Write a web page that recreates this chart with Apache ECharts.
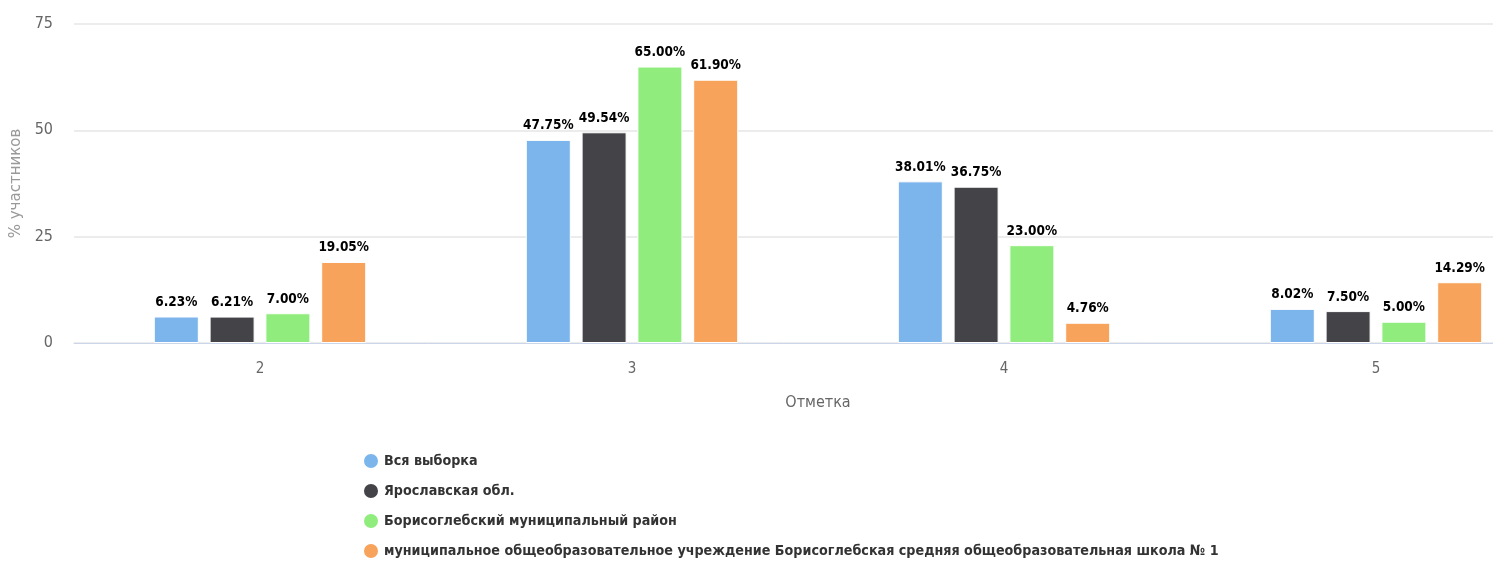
<!DOCTYPE html>
<html><head><meta charset="utf-8">
<script src="https://cdn.jsdelivr.net/npm/echarts@6/dist/echarts.min.js"></script>
<style>html,body{margin:0;padding:0;background:#fff}#c{width:1493px;height:561px}</style>
</head><body><div id="c"></div>
<script>
const categories = ['2', '3', '4', '5'];
const seriesNames = ['Вся выборка', 'Ярославская обл.', 'Борисоглебский муниципальный район', 'муниципальное общеобразовательное учреждение Борисоглебская средняя общеобразовательная школа № 1'];
const allSample = [6.23, 47.75, 38.01, 8.02];
const region = [6.21, 49.54, 36.75, 7.50];
const district = [7.00, 65.00, 23.00, 5.00];
const school = [19.05, 61.90, 4.76, 14.29];
const colors = ['#7cb5ec', '#434348', '#90ed7d', '#f7a35c'];
const yTicks = [0, 25, 50, 75];

const FONT = "'DejaVu Sans Condensed', sans-serif";
const values = [allSample, region, district, school];
const chart = echarts.init(document.getElementById('c'));
chart.setOption({
  animation: false,
  color: colors,
  textStyle: { fontFamily: FONT },
  grid: { left: 74, top: 24, right: -69, bottom: 218, containLabel: false, outerBoundsMode: 'none' },
  legend: {
    orient: 'vertical', left: 357, top: 447, height: 200, itemGap: 12, icon: 'circle',
    itemWidth: 16, itemHeight: 16,
    textStyle: { fontFamily: FONT, fontSize: 14.2, fontWeight: 'bold', color: '#333' },
    data: seriesNames
  },
  xAxis: {
    type: 'category', data: categories,
    name: 'Отметка', nameLocation: 'middle', nameGap: 52,
    nameTextStyle: { fontFamily: FONT, fontSize: 16, color: '#666' },
    axisLine: { lineStyle: { color: '#ccd6eb' } },
    axisTick: { show: false },
    axisLabel: { fontFamily: FONT, fontSize: 15, color: '#666', margin: 19 }
  },
  yAxis: {
    type: 'value', min: yTicks[0], max: yTicks[yTicks.length - 1], interval: 25,
    name: '% участников', nameLocation: 'middle', nameGap: 48,
    nameTextStyle: { fontFamily: "'DejaVu Sans', sans-serif", fontSize: 15, color: '#999' },
    axisLine: { show: false }, axisTick: { show: false },
    axisLabel: { fontFamily: FONT, fontSize: 16, color: '#666', margin: 21 },
    splitLine: { lineStyle: { color: '#ececec', width: 2 } }
  },
  series: values.map((v, i) => ({
    name: seriesNames[i], type: 'bar', data: v,
    barWidth: 45, barGap: '24%', barCategoryGap: '42.7%',
    itemStyle: { color: colors[i], borderColor: '#fff', borderWidth: 1 },
    label: {
      show: true, position: 'top', distance: 7,
      fontFamily: FONT, fontSize: 13.5, fontWeight: 'bold', color: '#000',
      formatter: p => p.value.toFixed(2) + '%'
    }
  }))
});
</script></body></html>
